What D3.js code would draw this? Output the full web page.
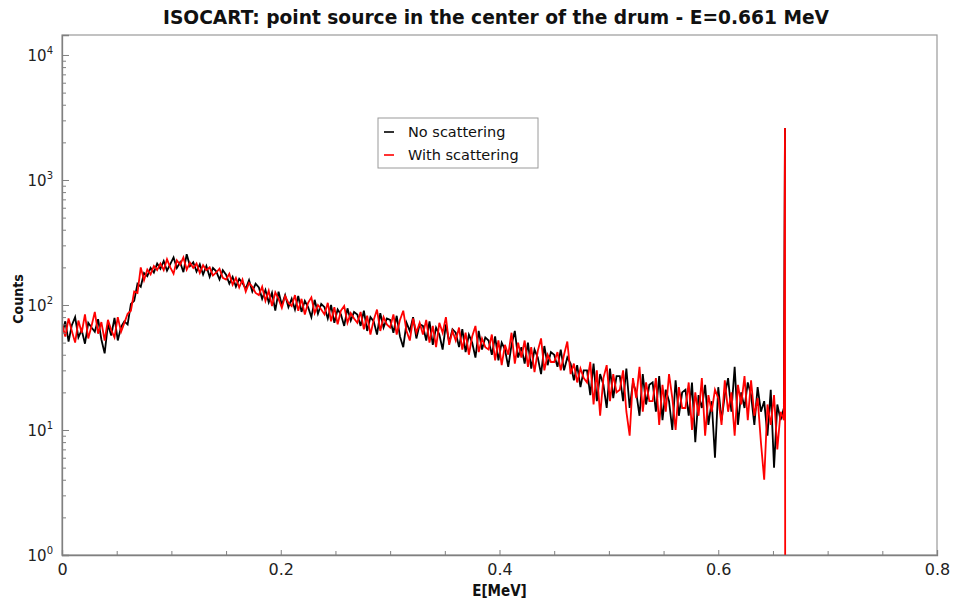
<!DOCTYPE html>
<html>
<head>
<meta charset="utf-8">
<script src="https://cdn.jsdelivr.net/npm/d3@7"></script>
<style>
  html, body { margin: 0; padding: 0; background: #fff; }
  svg { display: block; }
</style>
</head>
<body>
<svg id="chart" width="954" height="603"></svg>
<script>
// ---- data ----
const titleText = "ISOCART: point source in the center of the drum - E=0.661 MeV";
const xLabel = "E[MeV]";
const yLabel = "Counts";
const seriesNames = ["No scattering", "With scattering"];
const seriesColors = ["#000000", "#ff0000"];

const binWidth = 0.003; // MeV per plotted channel, starting at 0
const noScattering = [
  58, 74, 51, 69, 80, 55, 63, 49, 72, 66,
  61, 77, 53, 41, 70, 57, 79, 52, 67, 74,
  70, 102, 108, 148, 140, 180, 170, 198, 182, 215,
  195, 225, 188, 212, 240, 198, 220, 183, 255, 205,
  220, 185, 212, 175, 205, 168, 198, 186, 160, 190,
  175, 148, 168, 140, 162, 150, 135, 158, 128, 148,
  138, 112, 132, 105, 125, 90, 128, 100, 120, 96,
  112, 92, 118, 88, 108, 96, 80, 110, 85, 102,
  96, 78, 100, 72, 92, 84, 68, 94, 75, 88,
  84, 68, 90, 62, 80, 74, 58, 86, 66, 78,
  76, 60, 82, 56, 46, 72, 62, 80, 54, 70,
  68, 52, 74, 48, 66, 58, 44, 70, 50, 64,
  60, 46, 64, 42, 58, 50, 38, 62, 44, 55,
  52, 40, 56, 36, 50, 44, 32, 48, 62, 38,
  46, 34, 50, 31, 44, 38, 28, 47, 33, 42,
  40, 32, 44, 30, 38, 34, 25, 33, 22, 30,
  30, 19, 34, 17, 28, 23, 15, 31, 18, 27,
  27, 17, 31, 15, 24, 20, 13, 28, 16, 23,
  24, 14, 27, 12, 21, 17, 10, 25, 13, 20,
  21, 13, 24, 8, 19, 15, 23, 11, 17, 6,
  22, 12, 19, 26, 14, 32, 11, 20, 15, 24,
  19, 11, 22, 14, 17, 9, 21, 5, 16, 12,
  15
];
const withScattering = [
  71, 56, 78, 62, 50, 75, 60, 84, 54, 68,
  88, 59, 73, 52, 76, 63, 55, 80, 61, 72,
  85, 90, 128, 125, 200, 158, 192, 176, 205, 190,
  215, 190, 232, 200, 178, 228, 210, 240, 192, 218,
  198, 215, 180, 208, 190, 200, 172, 182, 195, 165,
  160, 178, 145, 165, 138, 160, 128, 150, 140, 125,
  120, 140, 108, 130, 98, 126, 112, 95, 118, 104,
  98, 120, 90, 112, 84, 104, 115, 86, 100, 92,
  84, 104, 74, 96, 70, 90, 98, 72, 86, 78,
  72, 88, 64, 82, 58, 76, 92, 62, 80, 70,
  66, 84, 58, 76, 90, 62, 52, 78, 60, 72,
  58, 76, 50, 68, 46, 72, 60, 80, 48, 62,
  52, 66, 44, 60, 40, 56, 68, 42, 54, 46,
  44, 58, 36, 52, 33, 48, 40, 60, 34, 50,
  38, 52, 32, 46, 29, 43, 54, 30, 40, 35,
  35, 42, 30, 40, 51, 28, 34, 24, 31, 26,
  24, 35, 16, 30, 13, 26, 33, 17, 28, 20,
  21, 30, 14, 9, 26, 18, 32, 14, 24, 17,
  17, 26, 11, 23, 14, 28, 18, 10, 22, 15,
  15, 24, 10, 20, 13, 26, 9, 19, 14, 21,
  18, 11, 25, 14, 20, 9, 23, 16, 27, 12,
  25, 13, 18, 8, 4, 16, 11, 19, 7, 14,
  12
];
const peakEnergy = 0.661;
const peakCounts = [2600, 2600];
const tailCounts = [null, 0.5]; // red line drops to zero after the photopeak

const xMajorTicks = [0, 0.2, 0.4, 0.6, 0.8];
const xTickLabels = ["0", "0.2", "0.4", "0.6", "0.8"];
const xMinorTicks = [0.05, 0.1, 0.15, 0.25, 0.3, 0.35, 0.45, 0.5, 0.55, 0.65, 0.7, 0.75];
const yDecadeExps = [0, 1, 2, 3, 4];
const yMinorMult = [2, 3, 4, 5, 6, 7, 8, 9];

// ---- layout ----
const mLeft = 62, mRight = 937, mTop = 35, mBottom = 555;
const svg = d3.select("#chart");

const x = d3.scaleLinear().domain([0, 0.8]).range([mLeft, mRight]);
const y = d3.scaleLog().domain([1, 14450]).range([mBottom, mTop]);

// frame (top & right)
svg.append("rect")
  .attr("x", mLeft).attr("y", mTop)
  .attr("width", mRight - mLeft).attr("height", mBottom - mTop)
  .attr("fill", "#fff").attr("stroke", "#9a9a9a").attr("stroke-width", 1.2);

// clip
svg.append("defs").append("clipPath").attr("id", "plotclip")
  .append("rect").attr("x", mLeft).attr("y", mTop)
  .attr("width", mRight - mLeft).attr("height", mBottom - mTop);

// series
const seriesData = [noScattering, withScattering].map((vals, s) => {
  const pts = vals.map((v, i) => ({ e: i * binWidth, c: v }));
  pts.push({ e: peakEnergy, c: peakCounts[s] });
  if (tailCounts[s] !== null) pts.push({ e: peakEnergy + 0.0002, c: tailCounts[s] });
  return pts;
});

const line = d3.line()
  .x(d => x(d.e))
  .y(d => y(Math.max(d.c, 0.3)));

const plotG = svg.append("g").attr("clip-path", "url(#plotclip)");
seriesData.forEach((pts, s) => {
  plotG.append("path")
    .datum(pts)
    .attr("d", line)
    .attr("fill", "none")
    .attr("stroke", seriesColors[s])
    .attr("stroke-width", 1.8)
    .attr("stroke-linejoin", "miter");
});

// x axis
const axisColor = "#808080";
const xAxisG = svg.append("g").attr("transform", `translate(0,${mBottom})`)
  .call(d3.axisBottom(x).tickValues(xMajorTicks).tickSize(-5).tickPadding(9)
    .tickFormat((d, i) => xTickLabels[i]));
const xMinorG = svg.append("g").attr("transform", `translate(0,${mBottom})`)
  .call(d3.axisBottom(x).tickValues(xMinorTicks).tickSize(-4).tickFormat(""));
xMinorG.select(".domain").remove();

// y axis
const yAxisG = svg.append("g").attr("transform", `translate(${mLeft},0)`)
  .call(d3.axisLeft(y).tickValues(yDecadeExps.map(e => Math.pow(10, e))).tickSize(-7).tickFormat(""));
const minorVals = [];
yDecadeExps.forEach(e => yMinorMult.forEach(m => {
  const v = m * Math.pow(10, e);
  if (v < y.domain()[1]) minorVals.push(v);
}));
const yMinorG = svg.append("g").attr("transform", `translate(${mLeft},0)`)
  .call(d3.axisLeft(y).tickValues(minorVals).tickSize(-4).tickFormat(""));
yMinorG.select(".domain").remove();

[xAxisG, xMinorG, yAxisG, yMinorG].forEach(g => {
  g.selectAll(".domain").attr("stroke", axisColor).attr("stroke-width", 1.3);
  g.selectAll(".tick line").attr("stroke", axisColor).attr("stroke-width", 1);
});
xAxisG.selectAll(".tick text")
  .attr("fill", "#222")
  .style("font-family", "'DejaVu Sans', Verdana, sans-serif")
  .style("font-size", "16px");

// y decade labels with superscripts
yDecadeExps.forEach(e => {
  const t = svg.append("text")
    .attr("x", 53).attr("y", y(Math.pow(10, e)) + 6)
    .attr("text-anchor", "end")
    .attr("fill", "#222")
    .style("font-family", "'DejaVu Sans', Verdana, sans-serif")
    .style("font-size", "15px");
  t.append("tspan").text("10");
  t.append("tspan").attr("dy", -7).style("font-size", "10px").text(String(e));
});

// axis titles
svg.append("text")
  .attr("x", (mLeft + mRight) / 2).attr("y", 596)
  .attr("text-anchor", "middle")
  .style("font-family", "'DejaVu Sans Condensed', 'Liberation Sans Narrow', 'DejaVu Sans', sans-serif")
  .style("font-weight", "bold").style("font-size", "15px")
  .attr("fill", "#111")
  .text(xLabel);

svg.append("text")
  .attr("transform", `translate(23,${(mTop + mBottom) / 2 + 4}) rotate(-90)`)
  .attr("text-anchor", "middle")
  .style("font-family", "'DejaVu Sans Condensed', 'Liberation Sans Narrow', 'DejaVu Sans', sans-serif")
  .style("font-weight", "bold").style("font-size", "14px")
  .attr("fill", "#111")
  .text(yLabel);

// title
svg.append("text")
  .attr("x", 496).attr("y", 24)
  .attr("text-anchor", "middle")
  .attr("textLength", 666).attr("lengthAdjust", "spacingAndGlyphs")
  .style("font-family", "'DejaVu Sans Condensed', 'Liberation Sans Narrow', 'DejaVu Sans', sans-serif")
  .style("font-weight", "bold").style("font-size", "20px")
  .attr("fill", "#111")
  .text(titleText);

// legend
const lg = svg.append("g").attr("transform", "translate(378,118)");
lg.append("rect").attr("width", 160).attr("height", 50)
  .attr("fill", "#fff").attr("stroke", "#9a9a9a").attr("stroke-width", 1);
seriesNames.forEach((name, i) => {
  const yy = 14 + i * 23;
  lg.append("line").attr("x1", 6).attr("x2", 16).attr("y1", yy).attr("y2", yy)
    .attr("stroke", seriesColors[i]).attr("stroke-width", 1.6);
  lg.append("text").attr("x", 30).attr("y", yy + 5)
    .style("font-family", "'DejaVu Sans', Verdana, sans-serif")
    .style("font-size", "14.5px")
    .attr("fill", "#111")
    .text(name);
});
</script>
</body>
</html>
